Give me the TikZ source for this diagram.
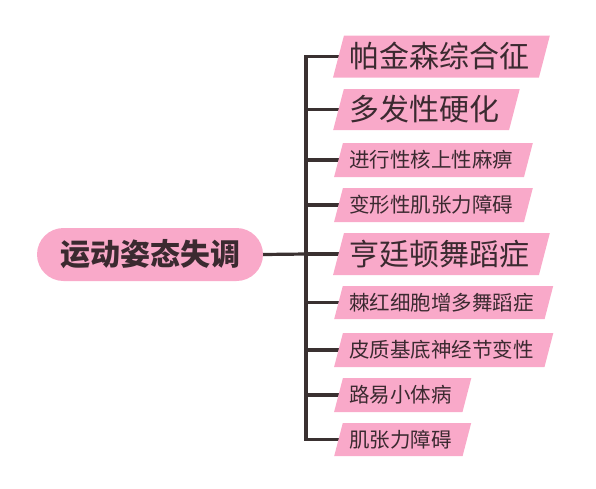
\documentclass[tikz,border=0pt]{standalone}
\usepackage{fontspec}
\newfontfamily\cjk{Noto Sans CJK SC}
\usetikzlibrary{backgrounds,calc}
\definecolor{pinkfill}{HTML}{F9A9C9}
\definecolor{inkc}{HTML}{3B2A30}
\definecolor{linec}{HTML}{3A3131}
\tikzset{
  rootbox/.style={fill=pinkfill, rounded corners=26.5pt, minimum width=226pt, minimum height=53pt, inner sep=0pt,
     text=inkc, font=\cjk\bfseries\fontsize{30}{30}\selectfont},
  bigleaf/.style={anchor=west, inner sep=0pt, text=inkc, minimum height=42pt, text height=22.5pt, text depth=0.3pt,
     font=\cjk\fontsize{30}{30}\selectfont},
  smallleaf/.style={anchor=west, inner sep=0pt, text=inkc, minimum height=34pt, text height=15.4pt, text depth=0.2pt,
     font=\cjk\fontsize{20.5}{20.5}\selectfont},
  conn/.style={draw=linec, line width=3.2pt},
}
\newcommand{\leafbg}[2]{% node name, half height
  \fill[pinkfill] ($(#1.west)+(-10.5-0.26*#2,#2)$) -- ($(#1.west)+(-10.5+0.26*#2,-#2)$)
     -- ($(#1.east)+(15+0.26*#2,-#2)$) -- ($(#1.east)+(15-0.26*#2,#2)$) -- cycle;}
\begin{document}
\begin{tikzpicture}[x=1pt,y=-1pt]
\useasboundingbox (0,0) rectangle (596,488);
\node[rootbox] (root) at (150,254.5) {运动姿态失调};
\node[bigleaf] (c1) at (349,56.5) {帕金森综合征};
\node[bigleaf] (c2) at (349,109.5) {多发性硬化};
\node[smallleaf] (c3) at (349,160) {进行性核上性麻痹};
\node[smallleaf] (c4) at (349,205) {变形性肌张力障碍};
\node[bigleaf] (c5) at (349,254) {亨廷顿舞蹈症};
\node[smallleaf] (c6) at (349,302.5) {棘红细胞增多舞蹈症};
\node[smallleaf] (c7) at (349,350) {皮质基底神经节变性};
\node[smallleaf] (c8) at (349,395) {路易小体病};
\node[smallleaf] (c9) at (349,439.5) {肌张力障碍};
\coordinate (trunk) at (306,254);
\begin{scope}[on background layer]
  \draw[conn] (root.east) -- (trunk);
  \draw[conn] ($(c1.west)+(-8,0)$) -| (trunk) |- ($(c9.west)+(-8,0)$);
  \foreach \n in {c2,c3,c4,c5,c6,c7,c8}
    \draw[conn] (trunk |- \n.west) -- ($(\n.west)+(-8,0)$);
  \leafbg{c1}{21}
  \leafbg{c2}{20.5}
  \leafbg{c3}{17}
  \leafbg{c4}{17}
  \leafbg{c5}{21}
  \leafbg{c6}{16.5}
  \leafbg{c7}{17}
  \leafbg{c8}{17}
  \leafbg{c9}{16.5}
\end{scope}
\end{tikzpicture}
\end{document}
